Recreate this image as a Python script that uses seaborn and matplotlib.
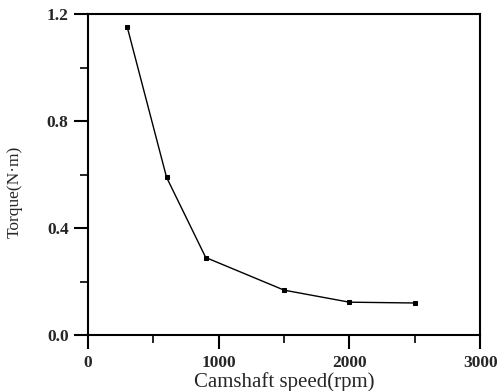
import matplotlib
matplotlib.use("Agg")
import matplotlib.pyplot as plt
import seaborn as sns
import pandas as pd
from matplotlib.ticker import MultipleLocator

speed = [300, 600, 900, 1500, 2000, 2500]
torque = [1.15, 0.59, 0.29, 0.168, 0.123, 0.12]
x_ticks = [0, 1000, 2000, 3000]
y_ticks = [0.0, 0.4, 0.8, 1.2]

sns.set_theme(style="ticks")
plt.rcParams['font.family'] = ['Liberation Serif', 'DejaVu Serif']

df = pd.DataFrame({"speed": speed, "torque": torque})

fig = plt.figure(figsize=(4.98, 3.91), dpi=100)
ax = fig.add_axes([0.177, 0.143, 0.787, 0.821])
sns.lineplot(data=df, x="speed", y="torque", ax=ax, color="black", linewidth=1.0,
             marker="s", markersize=3.5, markeredgecolor="black")

ax.set_xlim(0, 3000)
ax.set_ylim(0, 1.2)
ax.set_xticks(x_ticks)
ax.set_yticks(y_ticks)
ax.set_xticklabels([str(v) for v in x_ticks], fontweight="bold", fontsize=12.5)
ax.set_yticklabels([f"{v:.1f}" for v in y_ticks], fontweight="bold", fontsize=12.5)
ax.xaxis.set_minor_locator(MultipleLocator(500))
ax.yaxis.set_minor_locator(MultipleLocator(0.2))
ax.tick_params(which="major", direction="out", length=10, width=1.5, color="black", pad=4)
ax.tick_params(which="minor", direction="out", length=6, width=1.2, color="black")
for s in ax.spines.values():
    s.set_linewidth(1.5)
    s.set_color("black")
    s.set_visible(True)
ax.set_xlabel("Camshaft speed(rpm)", fontsize=15)
ax.set_ylabel("Torque(N·m)", fontsize=12.5)
ax.xaxis.set_label_coords(0.5, -0.115)
ax.yaxis.set_label_coords(-0.168, 0.445)
fig.savefig("out.png", dpi=100)
